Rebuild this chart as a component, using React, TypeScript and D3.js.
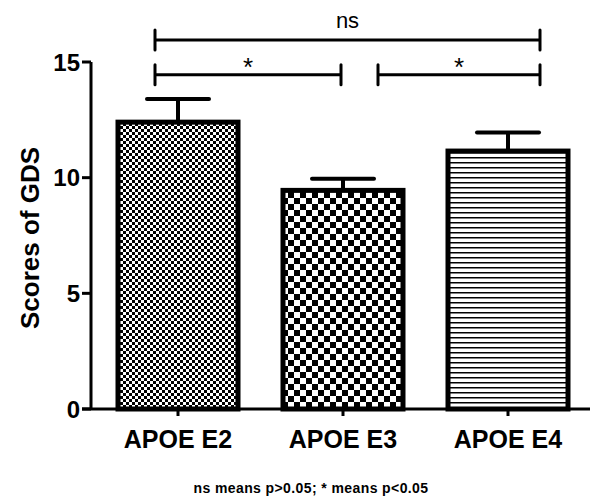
import React from "react";
import * as d3 from "d3";

const categories = ["APOE E2", "APOE E3", "APOE E4"];
const means = [12.4, 9.45, 11.15];
const errors = [1.0, 0.5, 0.8];
const yTicks = [0, 5, 10, 15];
const patterns = ["fine", "coarse", "lines"];
const bracketFrom = [0, 0, 1];
const bracketTo = [2, 1, 2];
const bracketLevel = [15.95, 14.45, 14.45];
const bracketLabel = ["ns", "*", "*"];
const bracketFromShift = [-23, -23, 35];
const bracketToShift = [32, -2, 32];

const W = 611;
const H = 502;

export default function App() {
  const y = d3.scaleLinear().domain([0, 15]).range([409, 62]);
  const x = d3.scalePoint<string>().domain(categories).range([95.5, 590.5]).padding(0.5);
  const barW = 120;
  const axisX = 91;

  return (
    <svg width={W} height={H} style={{ position: "absolute", left: 0, top: 0, background: "#fff" }}
      fontFamily="'Liberation Sans', Arial, sans-serif">
      <defs>
        <pattern id="fine" width={6} height={6} patternUnits="userSpaceOnUse">
          <rect width={6} height={6} fill="#fff" />
          <rect width={3} height={3} fill="#000" />
          <rect x={3} y={3} width={3} height={3} fill="#000" />
        </pattern>
        <pattern id="coarse" width={12} height={12} patternUnits="userSpaceOnUse">
          <rect width={12} height={12} fill="#fff" />
          <rect width={6} height={6} fill="#000" />
          <rect x={6} y={6} width={6} height={6} fill="#000" />
        </pattern>
        <pattern id="lines" width={10} height={5} patternUnits="userSpaceOnUse">
          <rect width={10} height={5} fill="#fff" />
          <rect y={2} width={10} height={1.5} fill="#000" />
        </pattern>
      </defs>

      {categories.map((c, i) => {
        const cx = x(c)!;
        const top = y(means[i]);
        const capY = y(means[i] + errors[i]);
        return (
          <g key={c}>
            <line x1={cx} x2={cx} y1={capY} y2={top} stroke="#000" strokeWidth={4} />
            <line x1={cx - 31} x2={cx + 31} y1={capY} y2={capY} stroke="#000" strokeWidth={4} strokeLinecap="round" />
            <rect x={cx - barW / 2} y={top} width={barW} height={y(0) - top}
              fill={`url(#${patterns[i]})`} stroke="#000" strokeWidth={5} />
          </g>
        );
      })}

      <line x1={axisX} x2={axisX} y1={y(15)} y2={y(0)} stroke="#000" strokeWidth={3} />
      <line x1={axisX - 9} x2={590} y1={y(0)} y2={y(0)} stroke="#000" strokeWidth={3} />
      {yTicks.map((t) => (
        <g key={t}>
          <line x1={axisX - 9} x2={axisX} y1={y(t)} y2={y(t)} stroke="#000" strokeWidth={3} />
          <text x={axisX - 11} y={y(t)} dy="0.36em" textAnchor="end" fontSize={24} fontWeight="bold">{t}</text>
        </g>
      ))}
      {categories.map((c) => (
        <g key={c}>
          <line x1={x(c)!} x2={x(c)!} y1={y(0)} y2={y(0) + 7} stroke="#000" strokeWidth={3} />
          <text x={x(c)!} y={448} textAnchor="middle" fontSize={25} fontWeight="bold">{c}</text>
        </g>
      ))}
      <text transform={`translate(39,${238}) rotate(-90)`} textAnchor="middle" fontSize={26} fontWeight="bold">Scores of GDS</text>

      {bracketLabel.map((lab, i) => {
        const x1 = x(categories[bracketFrom[i]])! + bracketFromShift[i];
        const x2 = x(categories[bracketTo[i]])! + bracketToShift[i];
        const by = y(bracketLevel[i]);
        return (
          <g key={i}>
            <line x1={x1} x2={x2} y1={by} y2={by} stroke="#000" strokeWidth={3} />
            <line x1={x1} x2={x1} y1={by - 10} y2={by + 10} stroke="#000" strokeWidth={3} strokeLinecap="round" />
            <line x1={x2} x2={x2} y1={by - 10} y2={by + 10} stroke="#000" strokeWidth={3} strokeLinecap="round" />
            <text x={(x1 + x2) / 2} y={lab === "ns" ? by - 12 : by + 1} textAnchor="middle"
              fontSize={lab === "ns" ? 22 : 26}>{lab}</text>
          </g>
        );
      })}

      <text x={311} y={493} textAnchor="middle" fontSize={14} fontWeight="bold" letterSpacing={0.4}>
        ns means p&gt;0.05; * means p&lt;0.05
      </text>
    </svg>
  );
}
